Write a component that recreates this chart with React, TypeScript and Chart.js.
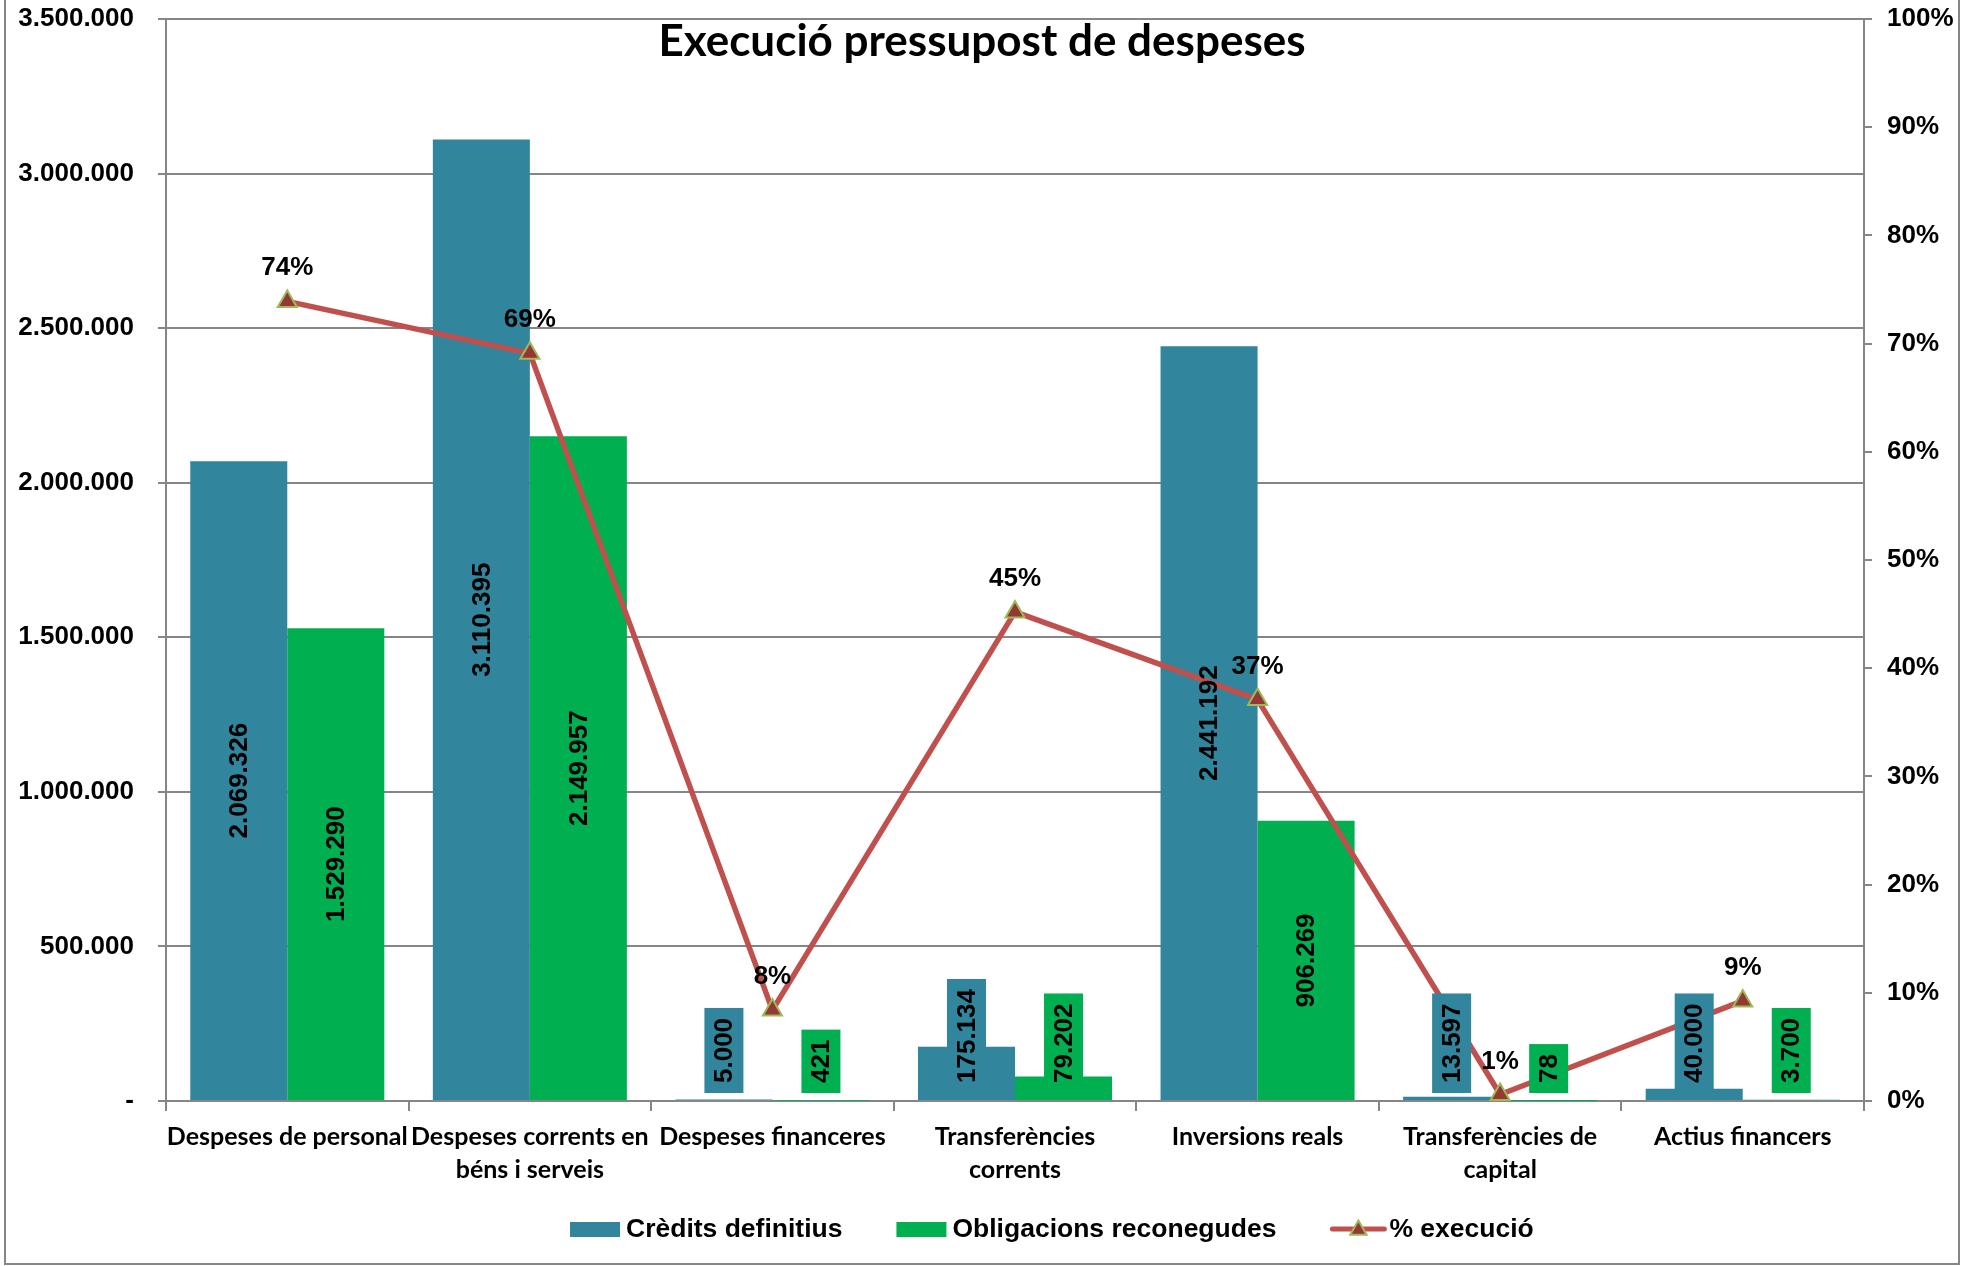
import React, { useEffect, useRef } from 'react';
import { Chart, registerables } from 'chart.js';

Chart.register(...registerables);

// ---- data ----
const chartTitle = 'Execució pressupost de despeses';
const categories: string[][] = [
  ['Despeses de personal'],
  ['Despeses corrents en', 'béns i serveis'],
  ['Despeses financeres'],
  ['Transferències', 'corrents'],
  ['Inversions reals'],
  ['Transferències de', 'capital'],
  ['Actius financers'],
];
const seriesNames = ['Crèdits definitius', 'Obligacions reconegudes', '% execució'];
const creditsDefinitius = [2069326, 3110395, 5000, 175134, 2441192, 13597, 40000];
const obligacionsReconegudes = [1529290, 2149957, 421, 79202, 906269, 78, 3700];
const percentExecucio = [0.739, 0.691, 0.084, 0.452, 0.371, 0.006, 0.0925];
const leftAxisMax = 3500000;
const leftAxisStep = 500000;
const rightAxisMax = 1;
const rightAxisStep = 0.1;

// ---- styles ----
const BLUE = '#31859C';
const GREEN = '#00B050';
const LINE = '#C0504D';
const MARK_FILL = '#953735';
const MARK_BORDER = '#9BBB59';
const GRID = '#868686';
const ARIAL = '"Liberation Sans", Arial, sans-serif';
const CAL = 'Lato, "Open Sans", sans-serif';

const fmt = (n: number) => Math.round(n).toString().replace(/\B(?=(\d{3})+(?!\d))/g, '.');

function drawTriangle(ctx: CanvasRenderingContext2D, x: number, y: number, r: number) {
  ctx.save();
  ctx.beginPath();
  let rad = 0;
  ctx.moveTo(x + Math.sin(rad) * r, y - Math.cos(rad) * r);
  rad += (2 * Math.PI) / 3;
  ctx.lineTo(x + Math.sin(rad) * r, y - Math.cos(rad) * r);
  rad += (2 * Math.PI) / 3;
  ctx.lineTo(x + Math.sin(rad) * r, y - Math.cos(rad) * r);
  ctx.closePath();
  ctx.fillStyle = MARK_FILL;
  ctx.fill();
  ctx.lineWidth = 2;
  ctx.strokeStyle = MARK_BORDER;
  ctx.stroke();
  ctx.restore();
}

const overlayPlugin = {
  id: 'overlay',
  beforeDraw(chart: any) {
    const ctx = chart.ctx as CanvasRenderingContext2D;
    ctx.save();
    ctx.strokeStyle = GRID;
    ctx.lineWidth = 2;
    ctx.strokeRect(5, -10, 1954, 1274);
    ctx.restore();
  },
  afterDatasetsDraw(chart: any) {
    const ctx = chart.ctx as CanvasRenderingContext2D;
    ctx.save();
    ctx.font = `bold 26px ${ARIAL}`;
    ctx.fillStyle = '#000';
    [0, 1].forEach((di) => {
      const meta = chart.getDatasetMeta(di);
      const ds = chart.data.datasets[di];
      meta.data.forEach((bar: any, i: number) => {
        const val = ds.data[i] as number;
        const txt = fmt(val);
        const tw = ctx.measureText(txt).width;
        const h = bar.base - bar.y;
        let cy: number;
        if (tw + 20 <= h) {
          cy = (bar.y + bar.base) / 2;
        } else {
          const bh = tw + 20;
          const bw = 39;
          const bottom = bar.base - 7;
          ctx.fillStyle = ds.backgroundColor;
          ctx.fillRect(bar.x - bw / 2, bottom - bh, bw, bh);
          cy = bottom - bh / 2;
        }
        ctx.save();
        ctx.translate(bar.x + 1, cy);
        ctx.rotate(-Math.PI / 2);
        ctx.fillStyle = '#000';
        ctx.textAlign = 'center';
        ctx.textBaseline = 'middle';
        ctx.fillText(txt, 0, 0);
        ctx.restore();
      });
    });
    // percent labels
    const lm = chart.getDatasetMeta(2);
    ctx.textAlign = 'center';
    ctx.textBaseline = 'alphabetic';
    ctx.fillStyle = '#000';
    lm.data.forEach((pt: any, i: number) => {
      const v = chart.data.datasets[2].data[i] as number;
      ctx.fillText(Math.round(v * 100) + '%', pt.x, pt.y - 26);
    });
    ctx.restore();
  },
  afterDraw(chart: any) {
    const ctx = chart.ctx as CanvasRenderingContext2D;
    ctx.save();
    // title
    ctx.font = `bold 44px ${CAL}`;
    ctx.fillStyle = '#000';
    ctx.textAlign = 'center';
    ctx.textBaseline = 'alphabetic';
    ctx.fillText(chartTitle, 982, 56);
    // legend
    ctx.font = `bold 26.5px ${ARIAL}`;
    ctx.textAlign = 'left';
    ctx.textBaseline = 'middle';
    let x = 570;
    const cy = 1229;
    const colors = [BLUE, GREEN];
    seriesNames.forEach((name, i) => {
      if (i < 2) {
        ctx.fillStyle = colors[i];
        ctx.fillRect(x, cy - 7, 50, 15);
        x += 56;
      } else {
        ctx.strokeStyle = LINE;
        ctx.lineWidth = 5;
        ctx.lineCap = 'round';
        ctx.beginPath();
        ctx.moveTo(x + 2, cy);
        ctx.lineTo(x + 54, cy);
        ctx.stroke();
        drawTriangle(ctx, x + 28, cy + 1, 9.5);
        x += 59;
      }
      ctx.fillStyle = '#000';
      ctx.fillText(name, x, cy + 1);
      x += ctx.measureText(name).width + 54;
    });
    ctx.restore();
  },
};

export default function App() {
  const ref = useRef<HTMLCanvasElement>(null);
  useEffect(() => {
    const chart = new Chart(ref.current as HTMLCanvasElement, {
      type: 'bar',
      data: {
        labels: categories,
        datasets: [
          {
            type: 'bar',
            label: seriesNames[0],
            data: creditsDefinitius,
            backgroundColor: BLUE,
            yAxisID: 'y',
            order: 2,
            categoryPercentage: 0.8,
            barPercentage: 1.0,
          },
          {
            type: 'bar',
            label: seriesNames[1],
            data: obligacionsReconegudes,
            backgroundColor: GREEN,
            yAxisID: 'y',
            order: 2,
            categoryPercentage: 0.8,
            barPercentage: 1.0,
          },
          {
            type: 'line',
            label: seriesNames[2],
            data: percentExecucio,
            borderColor: LINE,
            borderWidth: 5.5,
            borderCapStyle: 'round',
            borderJoinStyle: 'round',
            backgroundColor: MARK_FILL,
            pointStyle: 'triangle',
            pointRadius: 11,
            pointBackgroundColor: MARK_FILL,
            pointBorderColor: MARK_BORDER,
            pointBorderWidth: 2,
            yAxisID: 'y1',
            order: 0,
            tension: 0,
          },
        ] as any,
      },
      options: {
        animation: false,
        responsive: true,
        maintainAspectRatio: false,
        layout: { padding: { top: 19, left: 0, right: 0, bottom: 0 } },
        plugins: {
          legend: { display: false },
          tooltip: { enabled: false },
          title: { display: false },
        },
        scales: {
          x: {
            offset: true,
            ticks: {
              color: '#000',
              font: { family: CAL, size: 25, weight: 'bold', lineHeight: 1.32 },
              padding: 9,
              maxRotation: 0,
              minRotation: 0,
              autoSkip: false,
            },
            grid: {
              display: true,
              drawOnChartArea: false,
              drawTicks: true,
              tickLength: 10,
              color: GRID,
              lineWidth: 2,
              offset: true,
            },
            border: { display: true, color: GRID, width: 2 },
            afterFit: (s: any) => {
              s.height = 165;
              s.paddingLeft = 0;
              s.paddingRight = 0;
            },
          },
          y: {
            position: 'left',
            min: 0,
            max: leftAxisMax,
            ticks: {
              stepSize: leftAxisStep,
              color: '#000',
              font: { family: ARIAL, size: 26, weight: 'bold' },
              padding: 24,
              callback: (v: any) => (Number(v) === 0 ? '-' : fmt(Number(v))),
            },
            grid: { color: GRID, lineWidth: 2, tickLength: 8, drawTicks: true },
            border: { display: true, color: GRID, width: 2 },
            afterFit: (s: any) => {
              s.width = 166;
              s.paddingTop = 0;
              s.paddingBottom = 0;
            },
          },
          y1: {
            position: 'right',
            min: 0,
            max: rightAxisMax,
            ticks: {
              stepSize: rightAxisStep,
              color: '#000',
              font: { family: ARIAL, size: 26, weight: 'bold' },
              padding: 15,
              callback: (v: any) => Math.round(Number(v) * 100) + '%',
            },
            grid: { drawOnChartArea: false, color: GRID, lineWidth: 2, tickLength: 8, drawTicks: true },
            border: { display: true, color: GRID, width: 2 },
            afterFit: (s: any) => {
              s.width = 113;
              s.paddingTop = 0;
              s.paddingBottom = 0;
            },
          },
        },
      } as any,
      plugins: [overlayPlugin],
    });
    return () => chart.destroy();
  }, []);
  return (
    <div style={{ position: 'fixed', left: 0, top: 0, width: 1977, height: 1266, background: '#fff' }}>
      <canvas ref={ref} />
    </div>
  );
}
